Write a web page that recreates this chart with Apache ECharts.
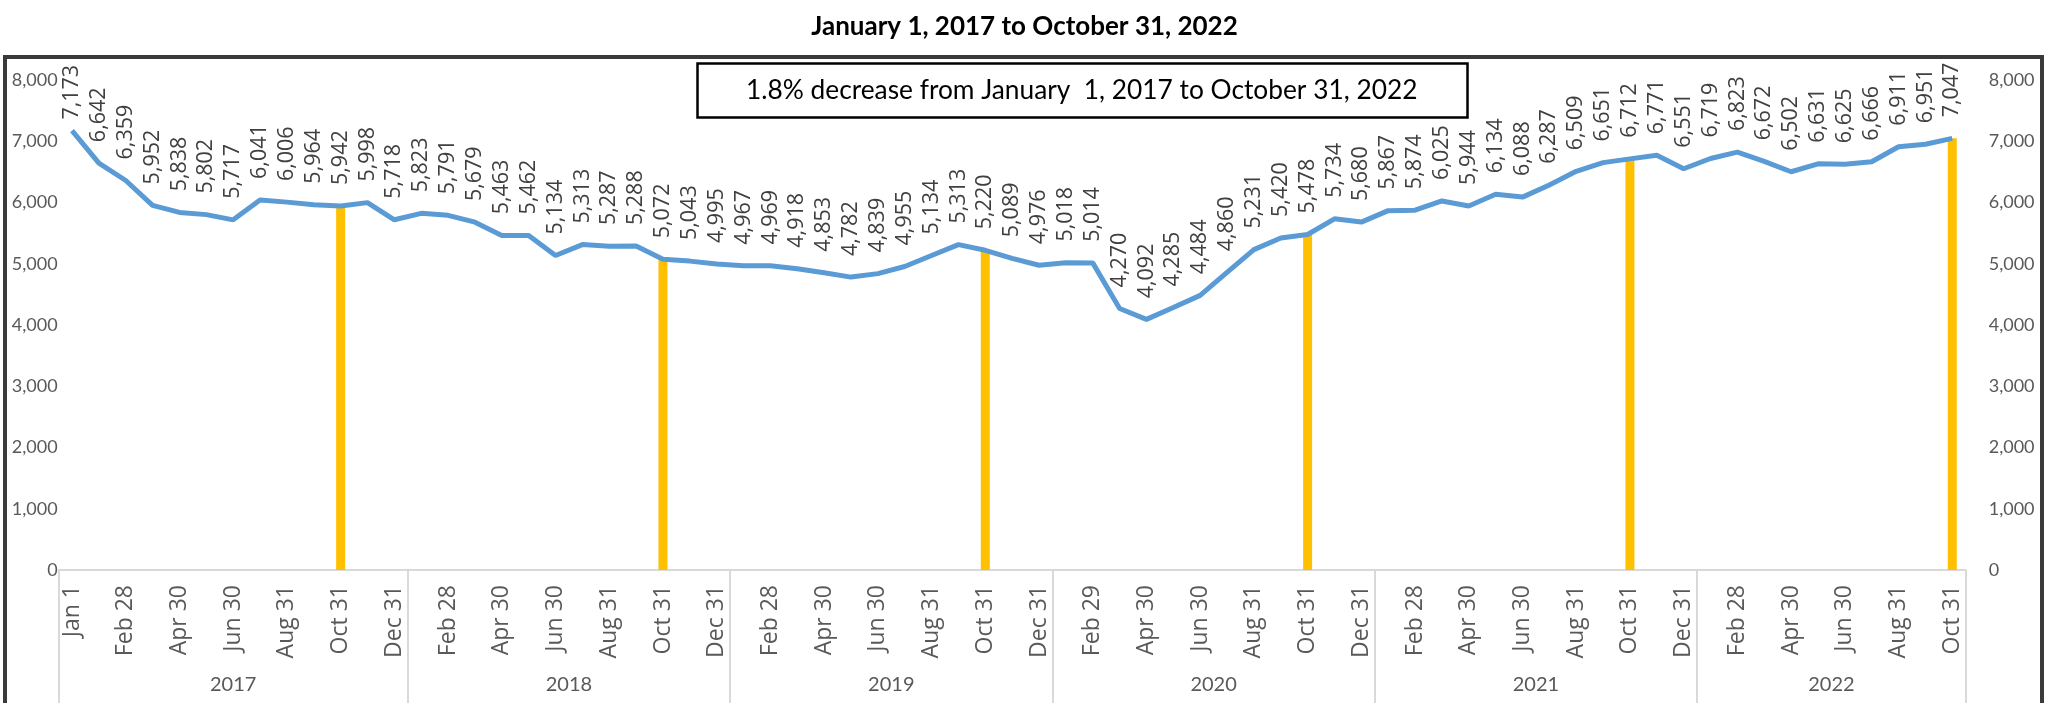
<!DOCTYPE html>
<html>
<head>
<meta charset="utf-8">
<script src="https://cdn.jsdelivr.net/npm/echarts@6/dist/echarts.min.js"></script>
<style>html,body{margin:0;padding:0;background:#fff}#c{width:2049px;height:703px}</style>
</head>
<body>
<div id="c"></div>
<script>
const years = ['2017', '2018', '2019', '2020', '2021', '2022'];
const dates2017 = ['Jan 1', 'Jan 31', 'Feb 28', 'Mar 31', 'Apr 30', 'May 31', 'Jun 30', 'Jul 31', 'Aug 31', 'Sep 30', 'Oct 31', 'Nov 30', 'Dec 31'];
const dates2018 = ['Jan 31', 'Feb 28', 'Mar 31', 'Apr 30', 'May 31', 'Jun 30', 'Jul 31', 'Aug 31', 'Sep 30', 'Oct 31', 'Nov 30', 'Dec 31'];
const dates2019 = ['Jan 31', 'Feb 28', 'Mar 31', 'Apr 30', 'May 31', 'Jun 30', 'Jul 31', 'Aug 31', 'Sep 30', 'Oct 31', 'Nov 30', 'Dec 31'];
const dates2020 = ['Jan 31', 'Feb 29', 'Mar 31', 'Apr 30', 'May 31', 'Jun 30', 'Jul 31', 'Aug 31', 'Sep 30', 'Oct 31', 'Nov 30', 'Dec 31'];
const dates2021 = ['Jan 31', 'Feb 28', 'Mar 31', 'Apr 30', 'May 31', 'Jun 30', 'Jul 31', 'Aug 31', 'Sep 30', 'Oct 31', 'Nov 30', 'Dec 31'];
const dates2022 = ['Jan 31', 'Feb 28', 'Mar 31', 'Apr 30', 'May 31', 'Jun 30', 'Jul 31', 'Aug 31', 'Sep 30', 'Oct 31'];

const values2017 = [7173, 6642, 6359, 5952, 5838, 5802, 5717, 6041, 6006, 5964, 5942, 5998, 5718];
const values2018 = [5823, 5791, 5679, 5463, 5462, 5134, 5313, 5287, 5288, 5072, 5043, 4995];
const values2019 = [4967, 4969, 4918, 4853, 4782, 4839, 4955, 5134, 5313, 5220, 5089, 4976];
const values2020 = [5018, 5014, 4270, 4092, 4285, 4484, 4860, 5231, 5420, 5478, 5734, 5680];
const values2021 = [5867, 5874, 6025, 5944, 6134, 6088, 6287, 6509, 6651, 6712, 6771, 6551];
const values2022 = [6719, 6823, 6672, 6502, 6631, 6625, 6666, 6911, 6951, 7047];

const highlightDate = 'Oct 31';
const yTicks = { min: 0, max: 8000, interval: 1000 };
const titleText = 'January 1, 2017 to October 31, 2022';
const noteText = '1.8% decrease from January  1, 2017 to October 31, 2022';

const dateGroups = [dates2017, dates2018, dates2019, dates2020, dates2021, dates2022];
const valueGroups = [values2017, values2018, values2019, values2020, values2021, values2022];

const categories = [];
const lineData = [];
const barData = [];
const yearStarts = [];
const yearCenters = [];
dateGroups.forEach((ds, gi) => {
  yearStarts.push(categories.length);
  yearCenters.push(categories.length + ds.length / 2);
  ds.forEach((d, i) => {
    categories.push(years[gi] + '|' + d);
    const v = valueGroups[gi][i];
    lineData.push(v);
    barData.push(d === highlightDate ? v : '-');
  });
});
yearStarts.push(categories.length);

const fmt = v => Number(v).toLocaleString('en-US');
const chart = echarts.init(document.getElementById('c'), null, { renderer: 'canvas' });

const labelColor = '#595959';
// the first label is pulled closer to its point so it stays inside the chart frame (as in the source)
const lineSeriesData = lineData.map((v, i) => i === 0 ? { value: v, label: { distance: 11 } } : v);

chart.setOption({
  animation: false,
  backgroundColor: '#fff',
  title: [
    {
      text: titleText, left: 'center', top: 9,
      textStyle: { fontFamily: 'Lato', fontWeight: 'bold', fontSize: 26, color: '#000' }
    },
    {
      text: noteText, left: 697, top: 63,
      borderColor: '#000', borderWidth: 2.5, padding: [12, 50, 12, 49],
      textStyle: { fontFamily: 'Lato', fontWeight: 'normal', fontSize: 26.3, lineHeight: 31, color: '#000' }
    }
  ],
  graphic: [
    { type: 'rect', z: 100, shape: { x: 5, y: 57, width: 2037, height: 720 },
      style: { fill: 'none', stroke: '#3a3a3a', lineWidth: 4 } }
  ],
  grid: { left: 58.6, right: 83.3, top: 80, bottom: 133, containLabel: false },
  xAxis: [
    {
      type: 'category', data: categories, boundaryGap: true,
      axisLine: { show: true, lineStyle: { color: '#D9D9D9', width: 2 } },
      axisTick: { show: false },
      axisLabel: {
        interval: 1, rotate: 90, margin: 15, color: labelColor,
        fontFamily: "'Open Sans', sans-serif", fontSize: 23,
        formatter: v => v.split('|')[1]
      },
      splitLine: { show: false }
    },
    {
      type: 'value', min: 0, max: categories.length, position: 'bottom',
      axisLine: { show: false },
      splitLine: { show: false },
      axisTick: { show: true, length: 150, customValues: yearStarts,
        lineStyle: { color: '#D9D9D9', width: 2 } },
      axisLabel: { show: true, customValues: yearCenters, margin: 105,
        color: labelColor, fontFamily: 'Lato', fontSize: 20,
        formatter: v => { const i = yearCenters.indexOf(v); return i >= 0 ? years[i] : ''; } }
    }
  ],
  yAxis: [
    {
      type: 'value', min: yTicks.min, max: yTicks.max, interval: yTicks.interval, position: 'left',
      axisLine: { show: false }, axisTick: { show: false }, splitLine: { show: false },
      axisLabel: { margin: 1, color: labelColor, fontFamily: 'Lato', fontSize: 18, formatter: fmt }
    },
    {
      type: 'value', min: yTicks.min, max: yTicks.max, interval: yTicks.interval, position: 'right',
      axisLine: { show: false }, axisTick: { show: false }, splitLine: { show: false },
      axisLabel: { margin: 23, color: labelColor, fontFamily: 'Lato', fontSize: 18, formatter: fmt }
    }
  ],
  series: [
    {
      type: 'bar', data: barData, barWidth: 9, z: 1,
      itemStyle: { color: '#FFC000' }
    },
    {
      type: 'line', data: lineSeriesData, z: 3, showSymbol: true, symbol: 'circle', symbolSize: 0.1,
      itemStyle: { color: '#5B9BD5' },
      lineStyle: { color: '#5B9BD5', width: 5 },
      label: {
        show: true, position: 'top', distance: 21, rotate: 90,
        align: 'left', verticalAlign: 'middle',
        color: '#404040', fontFamily: "'Open Sans', sans-serif", fontSize: 21.5,
        formatter: p => fmt(p.value)
      },
      labelLayout: { hideOverlap: false }
    }
  ]
});
</script>
</body>
</html>
